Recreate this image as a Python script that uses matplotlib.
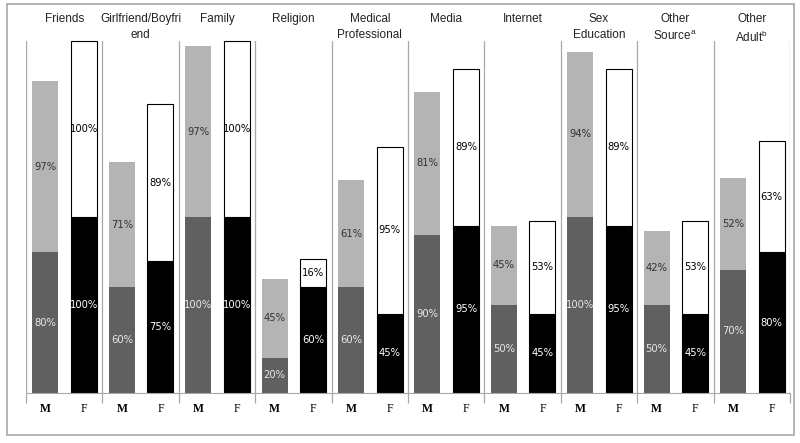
import matplotlib.pyplot as plt
from matplotlib.patches import Rectangle
import numpy as np

# data (percent)
categories = ['Friends', 'Girlfriend/Boyfri\nend', 'Family', 'Religion',
              'Medical\nProfessional', 'Media', 'Internet', 'Sex\nEducation',
              'Other\nSource$^{\\mathrm{a}}$', 'Other\nAdult$^{\\mathrm{b}}$']
male_bottom = [80, 60, 100, 20, 60, 90, 50, 100, 50, 70]
male_top = [97, 71, 97, 45, 61, 81, 45, 94, 42, 52]
female_bottom = [100, 75, 100, 60, 45, 95, 45, 95, 45, 80]
female_top = [100, 89, 100, 16, 95, 89, 53, 89, 53, 63]

W, H = 800, 443
plt.rcParams['mathtext.fontset'] = 'custom'
plt.rcParams['mathtext.rm'] = 'Liberation Sans'
fig = plt.figure(figsize=(W / 100, H / 100), dpi=100)
ax = fig.add_axes([26 / W, (H - 393) / H, (790 - 26) / W, (393 - 41) / H])

# outer gray border
fig.patches.append(Rectangle((7 / W, (H - 435) / H), (794 - 7) / W, (435 - 4) / H,
                             transform=fig.transFigure, fill=False,
                             edgecolor='#a8a8a8', linewidth=1.2))

n = len(categories)
x = np.arange(n)
m_pos = x + 0.255
f_pos = x + 0.76
bw = 0.34

ax.bar(m_pos, male_bottom, bw, color='#606060', zorder=2)
ax.bar(m_pos, male_top, bw, bottom=male_bottom, color='#b4b4b4', zorder=2)
ax.bar(f_pos, female_bottom, bw, color='black', edgecolor='black', linewidth=0.8, zorder=2)
ax.bar(f_pos, female_top, bw, bottom=female_bottom, color='white',
       edgecolor='black', linewidth=0.8, zorder=2, clip_on=False)

pct = dict(fontsize=7.2, family='DejaVu Sans', ha='center', va='center', zorder=3)
for i in range(n):
    ax.text(m_pos[i], male_bottom[i] / 2, f'{male_bottom[i]}%', color='#e8e8e8', **pct)
    ax.text(m_pos[i], male_bottom[i] + male_top[i] / 2, f'{male_top[i]}%', color='#333333', **pct)
    ax.text(f_pos[i], female_bottom[i] / 2, f'{female_bottom[i]}%', color='white', **pct)
    ax.text(f_pos[i], female_bottom[i] + female_top[i] / 2, f'{female_top[i]}%', color='black', **pct)

# group dividers
for b in range(n + 1):
    ax.axvline(b, color='#a8a8a8', linewidth=0.9, zorder=1)

ax.set_xlim(0, n)
ax.set_ylim(0, 200)
for s in ['top', 'left', 'right']:
    ax.spines[s].set_visible(False)
ax.spines['bottom'].set_color('#a8a8a8')
ax.set_yticks([])
ax.set_xticks(np.arange(n + 1))
ax.set_xticklabels([])
ax.tick_params(axis='x', length=7, color='#a8a8a8', width=0.9)

h_ax = 393 - 41
for i in range(n):
    ax.text(x[i] + 0.5, 1.0 + 28 / h_ax, categories[i], transform=ax.get_xaxis_transform(),
            ha='center', va='top', fontsize=8.5, family=['Liberation Sans', 'DejaVu Sans'],
            color='#222222', linespacing=1.4)
    ax.text(m_pos[i], -16 / h_ax, 'M', transform=ax.get_xaxis_transform(),
            ha='center', va='center', fontsize=8.5, family='Liberation Serif', fontweight='bold')
    ax.text(f_pos[i], -16 / h_ax, 'F', transform=ax.get_xaxis_transform(),
            ha='center', va='center', fontsize=8.5, family='Liberation Serif')

fig.savefig('out.png', dpi=100)
